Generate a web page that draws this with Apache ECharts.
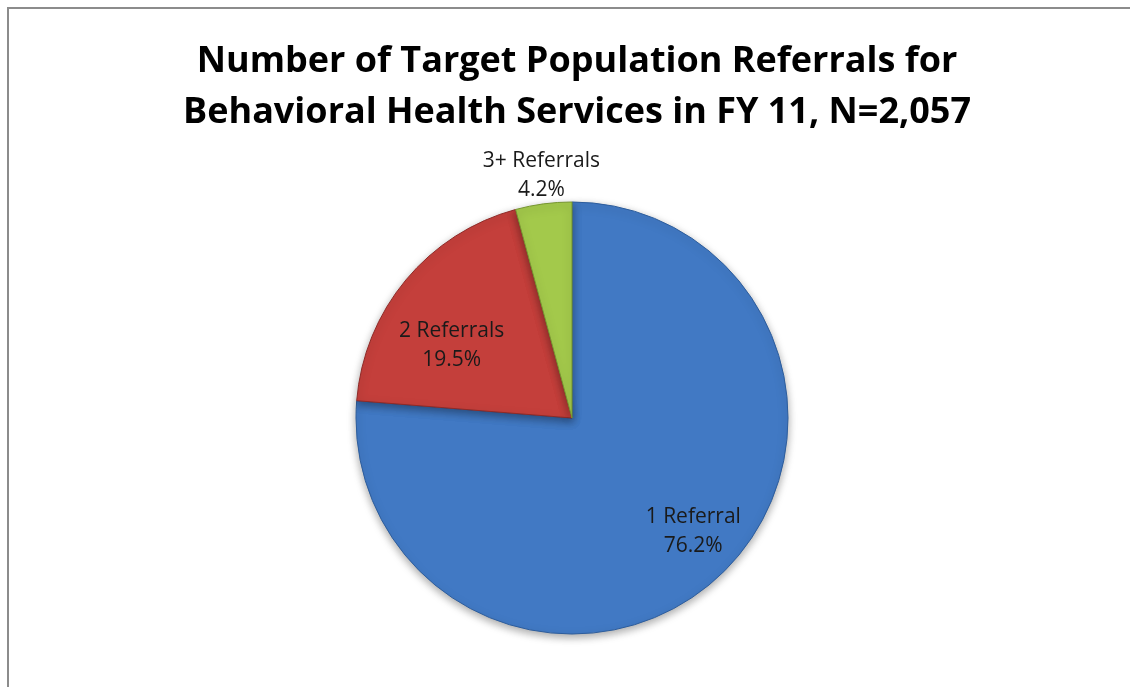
<!DOCTYPE html>
<html>
<head>
<meta charset="utf-8">
<script src="https://cdn.jsdelivr.net/npm/echarts@6/dist/echarts.min.js"></script>
<style>
  html, body { margin: 0; padding: 0; background: #fff; }
  #frame {
    position: absolute; left: 7px; top: 7px; width: 1140px; height: 700px;
    border-left: 2px solid #8c8c8c; border-top: 2px solid #8c8c8c;
  }
  #chart { position: absolute; left: 0; top: 0; width: 1130px; height: 687px; }
</style>
</head>
<body>
<div id="frame"></div>
<div id="chart"></div>
<script>
// data (percent of N=2,057)
const categories = ['1 Referral', '2 Referrals', '3+ Referrals'];
const shares = [76.2, 19.5, 4.2];
const sliceColors = ['#4179c4', '#c43f3b', '#a3c94b'];
const edgeColors = ['#2d5d9c', '#8f2a27', '#76952f'];
// nudge labels off the default mid-radius spot, like Excel's best fit
const labelNudge = [[46, 32], [-35, -2], [-16, -132]];

const chart = echarts.init(document.getElementById('chart'));

const pieData = categories.map((name, i) => ({
  name: name,
  value: shares[i],
  itemStyle: { color: sliceColors[i], borderColor: edgeColors[i] }
}));

chart.setOption({
  animation: false,
  title: {
    text: 'Number of Target Population Referrals for\nBehavioral Health Services in FY 11, N=2,057',
    left: 572,
    top: 31,
    textAlign: 'center',
    textStyle: {
      fontFamily: 'Open Sans',
      fontWeight: 'bold',
      fontSize: 36,
      lineHeight: 51,
      color: '#000'
    }
  },
  series: [
    {
      type: 'pie',
      center: [572, 418],
      radius: 216,
      startAngle: 90,
      clockwise: true,
      silent: true,
      data: pieData,
      itemStyle: {
        borderWidth: 1,
        shadowBlur: 8,
        shadowColor: 'rgba(0, 0, 0, 0.35)',
        shadowOffsetY: 3
      },
      label: {
        position: 'inside',
        formatter: '{b}\n{c}%',
        fontFamily: 'Open Sans',
        fontSize: 21,
        lineHeight: 29,
        color: '#1a1a1a'
      },
      labelLine: { show: false },
      labelLayout: function (params) {
        const n = labelNudge[params.dataIndex];
        return { dx: n[0], dy: n[1] };
      },
      emphasis: { disabled: true }
    }
  ]
});
</script>
</body>
</html>
